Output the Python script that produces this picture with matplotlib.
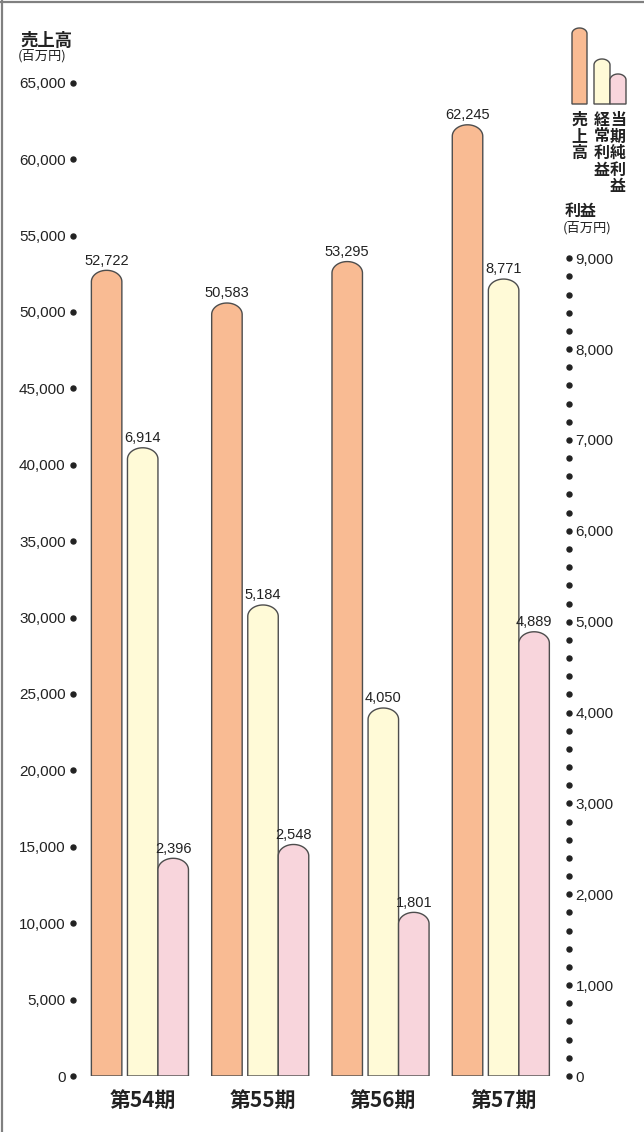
import numpy as np
import matplotlib
matplotlib.use('Agg')
import matplotlib.pyplot as plt
from matplotlib.path import Path
from matplotlib.patches import PathPatch
from matplotlib.lines import Line2D
from matplotlib.transforms import blended_transform_factory, IdentityTransform

# ---------------- data ----------------
periods = ['第54期', '第55期', '第56期', '第57期']
sales = [52722, 50583, 53295, 62245]            # 売上高 (left axis)
ordinary_profit = [6914, 5184, 4050, 8771]      # 経常利益 (right axis)
net_income = [2396, 2548, 1801, 4889]           # 当期純利益 (right axis)
sales_ticks = list(range(0, 65001, 5000))
profit_major_ticks = list(range(0, 9001, 1000))
profit_minor_ticks = list(range(0, 9001, 200))

# ---------------- style ----------------
C_ORANGE = '#F9BB93'
C_YELLOW = '#FFFAD7'
C_PINK = '#F8D5DC'
C_EDGE = '#4d4d4d'
CJK = ['Noto Sans CJK JP', 'DejaVu Sans']
NUM = ['Liberation Sans', 'DejaVu Sans']

W, H = 644, 1132
fig = plt.figure(figsize=(W / 100, H / 100), dpi=100)


def px_rect(l, t, r, b):
    return [l / W, 1 - b / H, (r - l) / W, (b - t) / H]


ax = fig.add_axes(px_rect(73.3, 82.7, 569.3, 1076))
ax2 = ax.twinx()
ax.set_xlim(-0.577, 3.546)
ax.set_ylim(0, 65000)
ax2.set_ylim(0, 10932)
for a in (ax, ax2):
    for s in a.spines.values():
        s.set_visible(False)
    a.patch.set_visible(False)

x = np.arange(len(periods))
bw = 0.2535
off_o, off_y, off_p = -0.30, 0.0, 0.2535


def round_top(axis, bars, k=0.75):
    tr = axis.transData
    for rect in bars:
        x0 = rect.get_x()
        w = rect.get_width()
        h = rect.get_height()
        p0 = tr.transform((x0, 0))
        p1 = tr.transform((x0 + w, 1000))
        wpx = p1[0] - p0[0]
        ypx_per = (p1[1] - p0[1]) / 1000
        rx = w / 2
        ry = k * (wpx / 2) / ypx_per
        t = np.linspace(np.pi, 0, 40)
        xs = x0 + rx + rx * np.cos(t)
        ys = h - ry + ry * np.sin(t)
        verts = [(x0, 0)] + list(zip(xs, ys)) + [(x0 + w, 0), (x0, 0)]
        patch = PathPatch(Path(verts, closed=True), facecolor=rect.get_facecolor(),
                          edgecolor=C_EDGE, linewidth=1.0, zorder=3)
        axis.add_patch(patch)
        rect.set_visible(False)


b1 = ax.bar(x + off_o, sales, bw, color=C_ORANGE)
b2 = ax2.bar(x + off_y, ordinary_profit, bw, color=C_YELLOW)
b3 = ax2.bar(x + off_p, net_income, bw, color=C_PINK)
round_top(ax, b1)
round_top(ax2, b2)
round_top(ax2, b3)

# value labels
for xi, v in zip(x + off_o, sales):
    ax.annotate(f'{v:,}', (xi, v), xytext=(0, 4), textcoords='offset points',
                ha='center', va='baseline', fontsize=10.5, family=NUM, color='#222222')
for xs_, vals in ((x + off_y, ordinary_profit), (x + off_p, net_income)):
    for xi, v in zip(xs_, vals):
        ax2.annotate(f'{v:,}', (xi, v), xytext=(0, 4), textcoords='offset points',
                     ha='center', va='baseline', fontsize=10.5, family=NUM, color='#222222')

# left axis: dot ticks
ax.set_yticks(sales_ticks, labels=[f'{v:,}' for v in sales_ticks])
ax.tick_params(axis='y', length=0, pad=5.5, labelsize=11, labelcolor='#222222')
for lab in ax.get_yticklabels():
    lab.set_family(NUM)
trl = blended_transform_factory(ax.transAxes, ax.transData)
ax.plot([0] * len(sales_ticks), sales_ticks, 'o', color='#222222', ms=3.6,
        transform=trl, clip_on=False, zorder=5)

# right axis: dot ticks
ax2.set_yticks(profit_major_ticks, labels=[f'{v:,}' for v in profit_major_ticks])
ax2.tick_params(axis='y', length=0, pad=4.5, labelsize=11, labelcolor='#222222')
for lab in ax2.get_yticklabels():
    lab.set_family(NUM)
trr = blended_transform_factory(ax2.transAxes, ax2.transData)
ax2.plot([1] * len(profit_minor_ticks), profit_minor_ticks, 'o', color='#222222', ms=3.6,
         transform=trr, clip_on=False, zorder=5)

# x labels
ax.set_xticks(x, labels=periods)
ax.tick_params(axis='x', length=0, pad=10)
for lab in ax.get_xticklabels():
    lab.set_family(CJK)
    lab.set_fontweight('bold')
    lab.set_fontsize(15)
    lab.set_color('#222222')
ax2.tick_params(axis='x', length=0)


# axis titles
def ftext(px, py, s, **kw):
    fig.text(px / W, 1 - py / H, s, family=CJK, color='#222222', **kw)


ftext(20, 32, '売上高', fontsize=12.5, fontweight='bold', va='top', ha='left')
ftext(18, 49, '(百万円)', fontsize=9.5, va='top', ha='left')
ftext(565, 203, '利益', fontsize=11.5, fontweight='bold', va='top', ha='left')
ftext(563, 221, '(百万円)', fontsize=9.5, va='top', ha='left')

# legend swatches (pixel coordinates)


def swatch(l, t, r, b, color, k=0.75):
    w = r - l
    rx = w / 2
    ry = k * rx
    yb = H - b
    yt = H - t
    tt = np.linspace(np.pi, 0, 40)
    xs = l + rx + rx * np.cos(tt)
    ys = yt - ry + ry * np.sin(tt)
    verts = [(l, yb)] + list(zip(xs, ys)) + [(r, yb), (l, yb)]
    fig.patches.append(PathPatch(Path(verts, closed=True), facecolor=color,
                                 edgecolor=C_EDGE, linewidth=1.0,
                                 transform=IdentityTransform(), figure=fig))


swatch(572, 28, 587, 104, C_ORANGE)
swatch(594, 59, 610, 104, C_YELLOW)
swatch(610, 74, 626, 104, C_PINK)

for cx, word in ((579.5, '売上高'), (602, '経常利益'), (618, '当期純利益')):
    for i, ch in enumerate(word):
        ftext(cx, 112 + i * 16.5, ch, fontsize=11.5, fontweight='bold', va='top', ha='center')

# frame lines (left & top)
fig.lines.append(Line2D([1.5 / W, 1.5 / W], [0, 1], transform=fig.transFigure,
                        color='#808080', lw=1.6))
fig.lines.append(Line2D([0, 1], [1 - 1.5 / H, 1 - 1.5 / H], transform=fig.transFigure,
                        color='#808080', lw=1.6))

fig.savefig('out.png', dpi=100)
